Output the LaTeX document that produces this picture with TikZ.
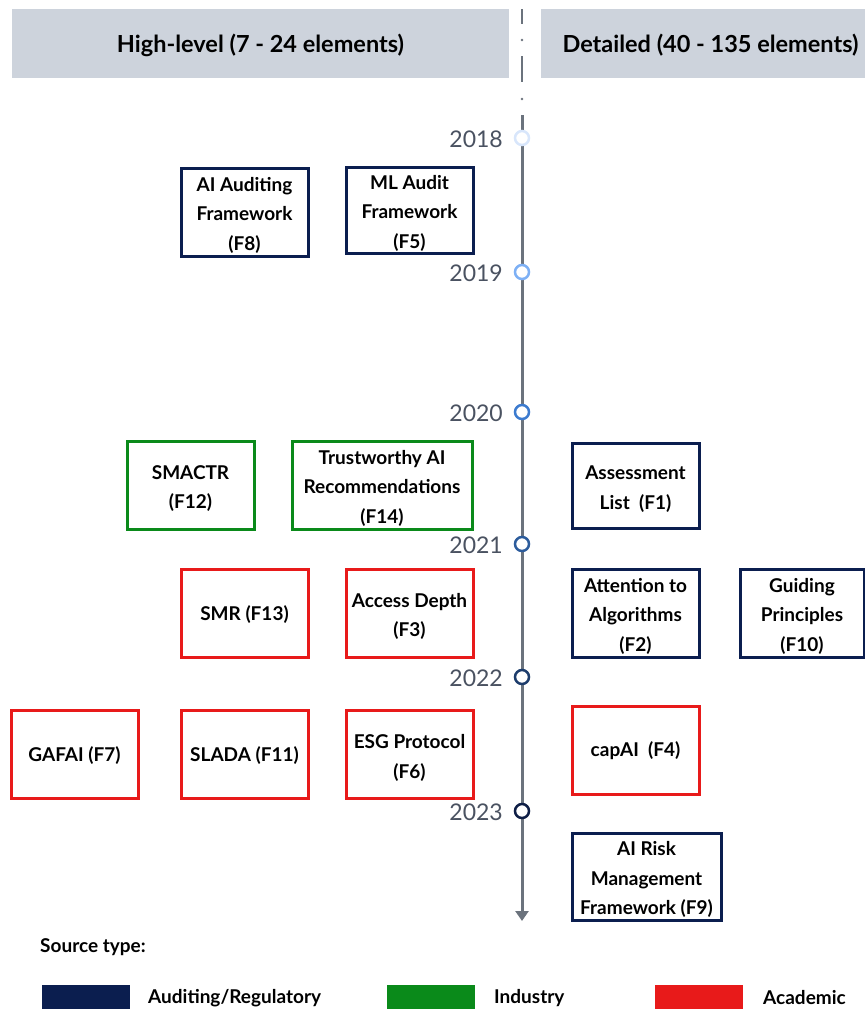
\documentclass[tikz,border=0pt]{standalone}
\usepackage{fontspec}
\setmainfont{Lato}
\usetikzlibrary{arrows.meta}

\definecolor{navy}{HTML}{0B1E4F}
\definecolor{indgreen}{HTML}{0A8A1A}
\definecolor{acadred}{HTML}{E81A1A}
\definecolor{hdrgray}{HTML}{CDD3DC}
\definecolor{axisgray}{HTML}{6B737D}
\definecolor{yeargray}{HTML}{4A5261}
\definecolor{y18}{HTML}{D8E6FB}
\definecolor{y19}{HTML}{7DB0F5}
\definecolor{y20}{HTML}{3C7BCF}
\definecolor{y21}{HTML}{2C5C9C}
\definecolor{y22}{HTML}{1D3D6C}
\definecolor{y23}{HTML}{0E1E46}

% struts that lower the text block a little inside the frames
\newcommand\fwup{\rule{0pt}{20.5pt}}
\newcommand\fwone{\rule{0pt}{17pt}}

\tikzset{
  fw/.style={draw, line width=3pt, minimum width=127pt, minimum height=88pt,
    align=center, inner sep=0pt, text=black,
    font=\fontsize{19}{29.5}\selectfont\bfseries},
  audit/.style={fw, draw=navy},
  industry/.style={fw, draw=indgreen},
  academic/.style={fw, draw=acadred},
  header/.style={fill=hdrgray, draw=none, inner sep=0pt},
  headtxt/.style={inner sep=0pt, font=\fontsize{23.5}{28}\selectfont\bfseries, text=black},
  yearmark/.style={circle, draw, fill=white, line width=2.5pt,
    minimum size=14pt, inner sep=0pt},
  yearlbl/.style={anchor=east, inner sep=0pt, text=yeargray,
    font=\fontsize{23}{27}\selectfont},
  axis/.style={draw=axisgray, line width=3pt},
  swatch/.style={minimum width=88pt, minimum height=24pt, inner sep=0pt, draw=none},
  legendlbl/.style={anchor=west, inner sep=0pt, font=\fontsize{19}{23}\selectfont\bfseries},
}

\begin{document}
\begin{tikzpicture}[x=1pt, y=-1pt]
\useasboundingbox (0,0) rectangle (865,1010);

% column headers
\node[header, minimum width=497pt, minimum height=69pt] (hl) at (260.5,43.5) {};
\node[header, minimum width=324pt, minimum height=69pt] (dt) at (703,43.5) {};
\node[headtxt] (hltxt) at (260.5,45) {High-level (7 - 24 elements)};
\node[headtxt] (dttxt) at (710.5,45) {Detailed (40 - 135 elements)};

% dash-dot separator above the timeline
\coordinate (s0) at (522,9);
\coordinate (s1) at (522,24);
\coordinate (d1) at (522,40);
\coordinate (s2) at (522,56);
\coordinate (s3) at (522,82);
\coordinate (d2) at (522,99);
\coordinate (s4) at (522,115);
\draw[axis, line width=2.5pt] (s0) -- (s1);
\draw[axis, line width=2.5pt] (s2) -- (s3);
\fill[axisgray] (d1) circle (1.4pt);
\fill[axisgray] (d2) circle (1.4pt);

% time axis
\coordinate (axtop) at (522,138);
\coordinate (axend) at (522,921);
\draw[axis] (s4) -- (axtop);
\draw[axis, -{Triangle[length=10pt, width=13pt]}] (axtop) -- (axend);

% year markers
\node[yearmark, draw=y18] (m18) at (522,138) {};
\node[yearmark, draw=y19] (m19) at (522,272) {};
\node[yearmark, draw=y20] (m20) at (522,412) {};
\node[yearmark, draw=y21] (m21) at (522,544) {};
\node[yearmark, draw=y22] (m22) at (522,677) {};
\node[yearmark, draw=y23] (m23) at (522,811) {};
\node[yearlbl] (l18) at (503,139) {2018};
\node[yearlbl] (l19) at (503,273) {2019};
\node[yearlbl] (l20) at (503,413) {2020};
\node[yearlbl] (l21) at (503,545) {2021};
\node[yearlbl] (l22) at (503,678) {2022};
\node[yearlbl] (l23) at (503,812) {2023};

% frameworks
\node[audit] (f8) at (244.5,212) {\fwup AI Auditing\\Framework\\(F8)};
\node[audit, minimum height=86pt] (f5) at (409.5,210) {\fwup ML Audit\\Framework\\(F5)};
\node[industry] (f12) at (190.5,485) {\fwup SMACTR\\(F12)};
\node[industry, minimum width=180pt] (f14) at (382,485) {\fwup Trustworthy AI\\Recommendations\\(F14)};
\node[audit, minimum height=85pt] (f1) at (635.5,485.5) {\fwup Assessment\\List\ \ (F1)};
\node[academic] (f13) at (244.5,613) {\fwone SMR (F13)};
\node[academic] (f3) at (409.5,613) {\fwup Access Depth\\(F3)};
\node[audit] (f2) at (635.5,613) {\fwup Attention to\\Algorithms\\(F2)};
\node[audit, minimum width=124pt] (f10) at (802,613) {\fwup Guiding\\Principles\\(F10)};
\node[academic] (f7) at (74.5,754.5) {\fwone GAFAI (F7)};
\node[academic] (f11) at (244.5,754.5) {\fwone SLADA (F11)};
\node[academic] (f6) at (409.5,754.5) {\fwup ESG Protocol\\(F6)};
\node[academic] (f4) at (635.5,750) {\fwone capAI\ \ (F4)};
\node[audit, minimum width=149pt, minimum height=87pt] (f9) at (646.5,876.5) {\fwup AI Risk\\Management\\Framework (F9)};

% legend
\node[legendlbl] (srct) at (40,947) {Source type:};
\node[swatch, fill=navy] (kaudit) at (86,997) {};
\node[swatch, fill=indgreen] (kind) at (431,997) {};
\node[swatch, fill=acadred] (kacad) at (699,997) {};
\node[legendlbl] (laudit) at (148,998) {Auditing/Regulatory};
\node[legendlbl] (lind) at (494,998) {Industry};
\node[legendlbl] (lacad) at (763,998) {Academic};
\end{tikzpicture}
\end{document}
